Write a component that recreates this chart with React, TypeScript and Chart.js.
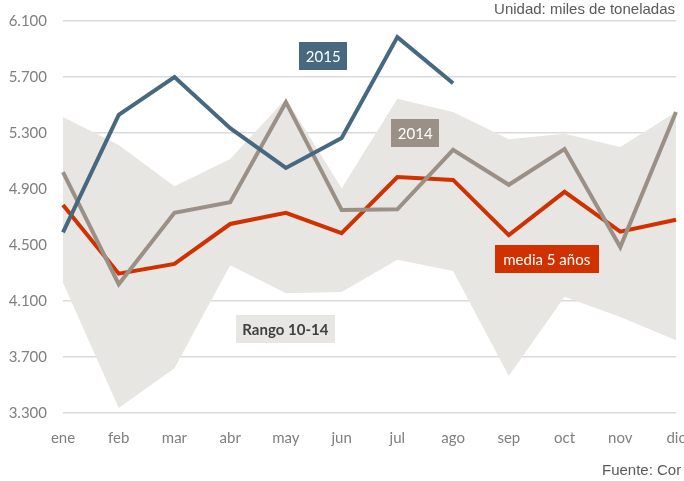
import React, { useEffect, useRef } from 'react';
import { Chart, registerables } from 'chart.js';

Chart.register(...registerables);

const months = ['ene', 'feb', 'mar', 'abr', 'may', 'jun', 'jul', 'ago', 'sep', 'oct', 'nov', 'dic'];
const yMin = 3300;
const yMax = 6100;
const yStep = 400;

const serie2015 = [4590, 5430, 5700, 5335, 5050, 5265, 5985, 5655, null, null, null, null];
const serie2014 = [5020, 4220, 4730, 4805, 5520, 4750, 4755, 5180, 4930, 5185, 4485, 5450];
const media5 = [4785, 4295, 4365, 4650, 4730, 4585, 4985, 4965, 4570, 4880, 4595, 4680];
const rangoMax = [5415, 5215, 4920, 5115, 5545, 4905, 5545, 5450, 5255, 5295, 5200, 5450];
const rangoMin = [4230, 3335, 3620, 4355, 4155, 4165, 4395, 4315, 3565, 4130, 3985, 3820];

// annotation labels: text, category position (index), value
const labelTexts = ['2015', '2014', 'media 5 años', 'Rango 10-14'];
const labelPosX = [4.67, 6.32, 8.68, 3.99];
const labelPosY = [5850, 5300, 4400, 3900];
const labelPad = [13, 13, 17, 13];
const labelFill = ['#47687f', '#9a9086', '#d13100', '#e7e6e3'];
const labelColor = ['#ffffff', '#ffffff', '#ffffff', '#404040'];
const labelBold = [false, false, false, true];

const unitText = 'Unidad: miles de toneladas';
const sourceText = 'Fuente: Cor';

const fmt = (v: number) => String(v).replace(/\B(?=(\d{3})+(?!\d))/g, '.');

const FONT = 'Lato, "Noto Sans", sans-serif';

const overlayPlugin = {
  id: 'overlay',
  afterDatasetsDraw(chart: any) {
    const { ctx, scales } = chart;
    const xs = scales.x;
    const ys = scales.y;
    ctx.save();
    for (let i = 0; i < labelTexts.length; i++) {
      const cx = xs.getPixelForValue(labelPosX[i]);
      const cy = ys.getPixelForValue(labelPosY[i]);
      ctx.font = `${labelBold[i] ? 'bold ' : ''}15px ${FONT}`;
      const w = ctx.measureText(labelTexts[i]).width + labelPad[i];
      const h = 28;
      ctx.fillStyle = labelFill[i];
      ctx.fillRect(Math.round(cx - w / 2), Math.round(cy - h / 2), Math.round(w), h);
      ctx.fillStyle = labelColor[i];
      ctx.textAlign = 'center';
      ctx.textBaseline = 'middle';
      ctx.fillText(labelTexts[i], cx, cy + 1);
    }
    ctx.font = '15px "Liberation Sans", Arial, sans-serif';
    ctx.fillStyle = '#595959';
    ctx.textAlign = 'right';
    ctx.textBaseline = 'middle';
    ctx.fillText(unitText, 675, 10);
    ctx.textAlign = 'left';
    ctx.fillText(sourceText, 602, 471);
    ctx.restore();
  },
};

export default function App() {
  const ref = useRef<HTMLCanvasElement | null>(null);
  useEffect(() => {
    if (!ref.current) return;
    const lineBase = {
      pointRadius: 0,
      pointHoverRadius: 0,
      borderWidth: 4,
      tension: 0,
      borderJoinStyle: 'miter' as const,
      fill: false,
    };
    const chart = new Chart(ref.current, {
      type: 'line',
      data: {
        labels: months,
        datasets: [
          { ...lineBase, label: '2015', data: serie2015, borderColor: '#47687f', order: 0, spanGaps: false },
          { ...lineBase, label: '2014', data: serie2014, borderColor: '#9a9086', order: 1 },
          { ...lineBase, label: 'media 5 años', data: media5, borderColor: '#d13100', order: 2 },
          {
            label: 'min', data: rangoMin, borderWidth: 0, pointRadius: 0, borderColor: 'rgba(0,0,0,0)',
            backgroundColor: '#e7e6e3', fill: false, order: 4, tension: 0,
          },
          {
            label: 'Rango 10-14', data: rangoMax, borderWidth: 0, pointRadius: 0, borderColor: 'rgba(0,0,0,0)',
            backgroundColor: '#e7e6e3', fill: 3, order: 3, tension: 0,
          },
        ],
      },
      options: {
        responsive: false,
        animation: false,
        devicePixelRatio: 1,
        layout: { padding: { left: 0, right: 8, top: 21, bottom: 0 } },
        plugins: {
          legend: { display: false },
          tooltip: { enabled: false },
          title: { display: false },
        },
        scales: {
          x: {
            type: 'category',
            offset: false,
            grid: { display: false, drawTicks: false },
            border: { display: false },
            ticks: {
              color: '#7f7f7f',
              font: { family: FONT, size: 15 },
              padding: 16,
              maxRotation: 0,
              autoSkip: false,
            },
            afterFit(scale: any) {
              scale.height = 68;
              scale.paddingLeft = 0;
              scale.paddingRight = 0;
            },
          },
          y: {
            min: yMin,
            max: yMax,
            grid: { color: '#dadada', lineWidth: 1.5, drawTicks: false },
            border: { display: false },
            ticks: {
              stepSize: yStep,
              color: '#7f7f7f',
              font: { family: FONT, size: 15 },
              padding: 16,
              callback: (v: any) => fmt(Number(v)),
            },
            afterFit(scale: any) {
              scale.width = 63;
              scale.paddingTop = 0;
              scale.paddingBottom = 0;
            },
          },
        },
      },
      plugins: [overlayPlugin],
    });
    return () => chart.destroy();
  }, []);
  return (
    <div style={{ position: 'fixed', left: 0, top: 0, width: 684, height: 481, background: '#ffffff' }}>
      <canvas ref={ref} width={684} height={481} style={{ display: 'block', width: 684, height: 481 }} />
    </div>
  );
}
